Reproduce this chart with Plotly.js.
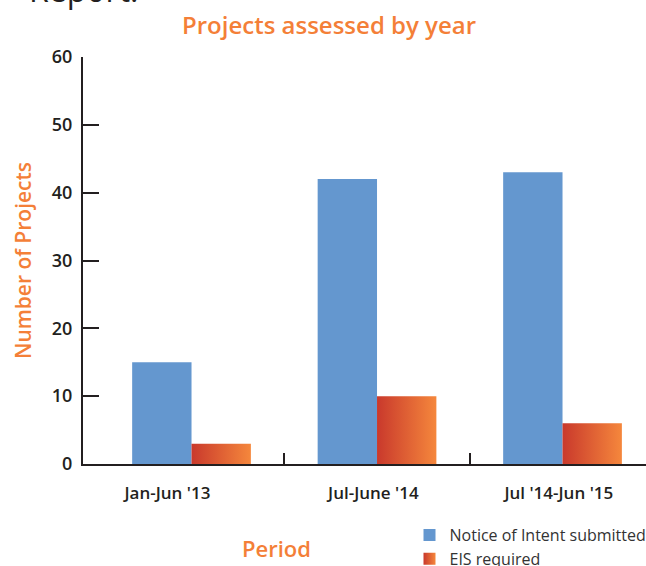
<!DOCTYPE html>
<html>
<head>
<meta charset="utf-8">
<script src="https://cdn.plot.ly/plotly-3.0.1.min.js"></script>
<style>
  html, body { margin: 0; padding: 0; background: #ffffff; }
  #chart { width: 646px; height: 566px; }
</style>
</head>
<body>
<div id="chart"></div>
<script>
// ---- data ----
const categories = ["Jan-Jun '13", "Jul-June '14", "Jul '14-Jun '15"];
const noticeOfIntent = [15, 42, 43];
const eisRequired = [3, 10, 6];
const seriesNames = ["Notice of Intent submitted", "EIS required"];

// ---- styling / layout helpers ----
const FONT = '"Open Sans", Roboto, sans-serif';
const ORANGE = '#f47f38';
const DARK = '#231f20';
const BLUE = '#6497cf';
const catPos = categories.map((c, i) => i);          // bar group positions
const labelPos = [-0.13, 0.98, 1.98];                 // where the reference prints its labels
const boundaryTicks = [0.5, 1.5, 2.5];

const traces = [
  {
    type: 'bar', name: seriesNames[0], x: catPos, y: noticeOfIntent,
    marker: { color: BLUE, line: { width: 0 } }, hoverinfo: 'skip'
  },
  {
    type: 'bar', name: seriesNames[1], x: catPos, y: eisRequired,
    marker: { color: '#de5d33', line: { width: 0 } }, hoverinfo: 'skip'
  }
];

const layout = {
  width: 646, height: 566,
  margin: { l: 83, r: 0, t: 57, b: 102, autoexpand: false },
  paper_bgcolor: '#ffffff', plot_bgcolor: '#ffffff',
  font: { family: FONT, color: DARK },
  barmode: 'group', bargap: 0.36, bargroupgap: 0,
  showlegend: true,
  title: {
    text: 'Projects assessed by year',
    font: { size: 24, color: ORANGE, family: FONT, weight: 600 },
    x: 329 / 646, xanchor: 'center', xref: 'container',
    y: 1 - 26 / 566, yanchor: 'middle', yref: 'container'
  },
  xaxis: {
    type: 'linear', range: [-0.585, 2.45], fixedrange: true,
    showgrid: false, zeroline: false,
    showline: true, linecolor: DARK, linewidth: 2,
    tickmode: 'array', tickvals: labelPos, ticktext: categories,
    ticks: '', ticklabelstandoff: 13,
    tickfont: { size: 17, color: DARK, weight: 600 },
    minor: { tickmode: 'array', tickvals: boundaryTicks, ticks: 'inside', ticklen: 11, tickwidth: 2, tickcolor: DARK, showgrid: false }
  },
  yaxis: {
    range: [0, 60], fixedrange: true,
    tickmode: 'array', tickvals: [0, 10, 20, 30, 40, 50, 60],
    showgrid: false, zeroline: false,
    showline: true, linecolor: DARK, linewidth: 2,
    ticks: 'inside', ticklen: 16, tickwidth: 2, tickcolor: DARK,
    ticklabelstandoff: 5,
    tickfont: { size: 18, color: DARK, weight: 600 },
    title: { text: 'Number of Projects', font: { size: 21, color: ORANGE, weight: 600 }, standoff: 14 }
  },
  legend: {
    x: 409.5 / 646, xanchor: 'left', xref: 'container',
    y: 1 - 518 / 566, yanchor: 'top', yref: 'container',
    font: { size: 16, color: '#333333' },
    bgcolor: 'rgba(0,0,0,0)', borderwidth: 0,
    tracegroupgap: 0, itemclick: false
  },
  annotations: [
    {
      text: 'Period', xref: 'paper', yref: 'paper',
      x: (276 - 83) / 563, y: -(548 - 464) / 407, xanchor: 'center', yanchor: 'middle',
      showarrow: false, font: { size: 22, color: ORANGE, weight: 600 }
    },
    {
      text: 'Report.', xref: 'paper', yref: 'paper',
      x: (27 - 83) / 563, y: 1 + (57 - 13) / 407, xanchor: 'left', yanchor: 'bottom',
      showarrow: false, font: { size: 32, color: DARK }
    }
  ]
};

Plotly.newPlot('chart', traces, layout, { staticPlot: true, displayModeBar: false }).then(function (gd) {
  // horizontal red -> orange gradient like the reference's second series
  const svg = gd.querySelector('.main-svg');
  const NS = 'http://www.w3.org/2000/svg';
  let defs = svg.querySelector('defs');
  if (!defs) { defs = document.createElementNS(NS, 'defs'); svg.insertBefore(defs, svg.firstChild); }
  const grad = document.createElementNS(NS, 'linearGradient');
  grad.setAttribute('id', 'eisGrad');
  grad.setAttribute('x1', '0'); grad.setAttribute('y1', '0');
  grad.setAttribute('x2', '1'); grad.setAttribute('y2', '0');
  [['0%', '#c9392c'], ['100%', '#f5873c']].forEach(function (s) {
    const st = document.createElementNS(NS, 'stop');
    st.setAttribute('offset', s[0]); st.setAttribute('stop-color', s[1]);
    grad.appendChild(st);
  });
  defs.appendChild(grad);
  const barTraces = gd.querySelectorAll('.barlayer .trace');
  if (barTraces[1]) barTraces[1].querySelectorAll('path').forEach(function (p) { p.style.fill = 'url(#eisGrad)'; });
  const legTraces = gd.querySelectorAll('.legend .traces');
  if (legTraces[1]) legTraces[1].querySelectorAll('.legendpoints path').forEach(function (p) { p.style.fill = 'url(#eisGrad)'; });
});
</script>
</body>
</html>
